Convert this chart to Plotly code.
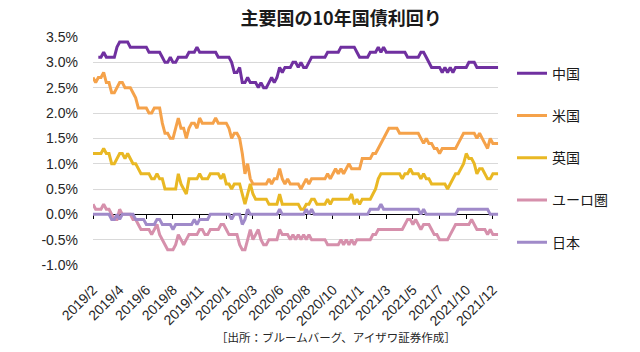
import plotly.graph_objects as go

tick_labels = ["2019/2", "2019/4", "2019/6", "2019/8", "2019/11", "2020/1", "2020/3", "2020/6",
               "2020/8", "2020/10", "2021/1", "2021/3", "2021/5", "2021/7", "2021/10", "2021/12"]

china = [None, None, 3.1, 3.1, 3.2, 3.1, 3.1, 3.1, 3.1, 3.3,
         3.4, 3.4, 3.4, 3.4, 3.3, 3.3, 3.3, 3.3, 3.3, 3.3,
         3.3, 3.2, 3.2, 3.2, 3.2, 3.2, 3.1, 3.0, 3.0, 3.1,
         3.0, 3.0, 3.1, 3.1, 3.1, 3.1, 3.2, 3.2, 3.2, 3.3,
         3.2, 3.2, 3.2, 3.2, 3.2, 3.2, 3.2, 3.1, 3.1, 3.1,
         3.1, 3.1, 3.0, 2.8, 2.8, 2.9, 2.6, 2.6, 2.7, 2.6,
         2.6, 2.6, 2.5, 2.6, 2.5, 2.5, 2.6, 2.7, 2.6, 2.7,
         2.9, 2.8, 2.9, 2.9, 2.9, 3.0, 3.0, 2.9, 3.0, 2.9,
         2.9, 3.0, 3.1, 3.1, 3.1, 3.1, 3.1, 3.1, 3.2, 3.2,
         3.2, 3.2, 3.2, 3.3, 3.3, 3.3, 3.3, 3.3, 3.3, 3.2,
         3.1, 3.1, 3.1, 3.1, 3.2, 3.2, 3.2, 3.3, 3.2, 3.3,
         3.2, 3.2, 3.2, 3.2, 3.2, 3.2, 3.2, 3.2, 3.1, 3.1,
         3.1, 3.1, 3.1, 3.2, 3.2, 3.1, 3.0, 2.9, 2.9, 2.9,
         2.9, 2.8, 2.9, 2.8, 2.9, 2.8, 2.9, 2.9, 2.9, 2.9,
         2.9, 3.0, 3.0, 3.0, 2.9, 2.9, 2.9, 2.9, 2.9, 2.9,
         2.9, 2.9, 2.9]

us = [2.7, 2.6, 2.7, 2.7, 2.8, 2.6, 2.6, 2.4, 2.4, 2.5,
      2.6, 2.6, 2.5, 2.5, 2.5, 2.4, 2.3, 2.1, 2.1, 2.1,
      2.1, 2.0, 2.0, 2.1, 2.1, 2.1, 1.8, 1.6, 1.6, 1.5,
      1.5, 1.7, 1.9, 1.7, 1.7, 1.5, 1.7, 1.8, 1.8, 1.7,
      1.9, 1.8, 1.8, 1.8, 1.8, 1.8, 1.9, 1.8, 1.8, 1.8,
      1.8, 1.7, 1.5, 1.6, 1.6, 1.5, 1.2, 0.8, 1.0, 0.7,
      0.6, 0.6, 0.6, 0.6, 0.6, 0.6, 0.7, 0.6, 0.7, 0.7,
      0.9, 0.7, 0.6, 0.7, 0.6, 0.6, 0.6, 0.6, 0.5, 0.6,
      0.7, 0.6, 0.7, 0.7, 0.7, 0.7, 0.7, 0.7, 0.8, 0.7,
      0.8, 0.9, 0.8, 0.9, 0.8, 0.9, 1.0, 0.9, 0.9, 0.9,
      0.9, 1.1, 1.1, 1.1, 1.1, 1.2, 1.2, 1.3, 1.4, 1.5,
      1.6, 1.7, 1.7, 1.7, 1.7, 1.6, 1.6, 1.6, 1.6, 1.6,
      1.6, 1.6, 1.6, 1.5, 1.4, 1.5, 1.4, 1.4, 1.3, 1.3,
      1.2, 1.3, 1.3, 1.3, 1.3, 1.3, 1.3, 1.4, 1.5, 1.6,
      1.6, 1.6, 1.6, 1.6, 1.5, 1.6, 1.5, 1.4, 1.3, 1.5,
      1.4, 1.4, 1.4]

uk = [1.2, 1.2, 1.2, 1.2, 1.3, 1.2, 1.2, 1.0, 1.0, 1.1,
      1.2, 1.2, 1.1, 1.2, 1.1, 1.0, 1.0, 0.9, 0.8, 0.8,
      0.8, 0.8, 0.7, 0.7, 0.8, 0.7, 0.7, 0.5, 0.5, 0.5,
      0.5, 0.5, 0.8, 0.6, 0.5, 0.4, 0.7, 0.7, 0.7, 0.7,
      0.8, 0.7, 0.7, 0.7, 0.8, 0.8, 0.8, 0.8, 0.7, 0.8,
      0.6, 0.6, 0.5, 0.6, 0.6, 0.6, 0.4, 0.2, 0.4, 0.6,
      0.4, 0.3, 0.3, 0.3, 0.3, 0.3, 0.2, 0.2, 0.2, 0.2,
      0.4, 0.2, 0.2, 0.2, 0.2, 0.2, 0.2, 0.2, 0.1, 0.1,
      0.2, 0.2, 0.3, 0.3, 0.2, 0.2, 0.2, 0.2, 0.3, 0.2,
      0.3, 0.3, 0.3, 0.3, 0.3, 0.3, 0.3, 0.4, 0.2, 0.3,
      0.2, 0.3, 0.3, 0.3, 0.3, 0.4, 0.5, 0.7, 0.8, 0.8,
      0.8, 0.8, 0.8, 0.8, 0.8, 0.8, 0.7, 0.8, 0.8, 0.9,
      0.8, 0.8, 0.8, 0.7, 0.8, 0.7, 0.7, 0.6, 0.6, 0.6,
      0.6, 0.6, 0.6, 0.5, 0.6, 0.7, 0.8, 0.8, 0.9, 1.0,
      1.2, 1.1, 1.1, 1.0, 0.8, 0.9, 0.9, 0.8, 0.7, 0.7,
      0.8, 0.8, 0.8]

euro = [0.2, 0.1, 0.1, 0.1, 0.2, 0.1, 0.1, 0.0, -0.1, -0.1,
        0.1, 0.0, 0.0, 0.0, 0.0, -0.1, -0.1, -0.2, -0.3, -0.3,
        -0.3, -0.3, -0.4, -0.3, -0.2, -0.4, -0.5, -0.6, -0.7, -0.7,
        -0.7, -0.6, -0.4, -0.5, -0.6, -0.5, -0.4, -0.4, -0.4, -0.4,
        -0.3, -0.3, -0.4, -0.4, -0.3, -0.3, -0.3, -0.3, -0.2, -0.2,
        -0.3, -0.4, -0.4, -0.4, -0.4, -0.6, -0.7, -0.7, -0.5, -0.3,
        -0.5, -0.4, -0.3, -0.5, -0.6, -0.6, -0.5, -0.5, -0.5, -0.5,
        -0.3, -0.4, -0.4, -0.4, -0.5, -0.4, -0.5, -0.4, -0.5, -0.4,
        -0.5, -0.4, -0.5, -0.5, -0.5, -0.5, -0.5, -0.5, -0.6, -0.6,
        -0.6, -0.6, -0.6, -0.5, -0.6, -0.5, -0.6, -0.5, -0.6, -0.5,
        -0.5, -0.5, -0.5, -0.5, -0.5, -0.4, -0.4, -0.3, -0.3, -0.3,
        -0.3, -0.3, -0.3, -0.3, -0.3, -0.3, -0.3, -0.2, -0.1, -0.1,
        -0.2, -0.1, -0.2, -0.3, -0.2, -0.2, -0.2, -0.3, -0.4, -0.4,
        -0.5, -0.5, -0.5, -0.5, -0.4, -0.3, -0.2, -0.2, -0.2, -0.2,
        -0.2, -0.2, -0.1, -0.2, -0.3, -0.3, -0.3, -0.3, -0.4, -0.3,
        -0.4, -0.4, -0.4]

japan = [0.0, 0.0, 0.0, 0.0, 0.0, 0.0, 0.0, -0.1, -0.1, 0.0,
         -0.1, 0.0, 0.0, 0.0, 0.0, 0.0, -0.1, -0.1, -0.1, -0.1,
         -0.2, -0.2, -0.2, -0.2, -0.1, -0.1, -0.2, -0.2, -0.2, -0.2,
         -0.3, -0.2, -0.2, -0.2, -0.2, -0.2, -0.2, -0.2, -0.1, -0.2,
         -0.1, -0.1, -0.1, -0.1, 0.0, 0.0, 0.0, 0.0, 0.0, 0.0,
         0.0, 0.0, -0.1, 0.0, 0.0, 0.0, -0.2, -0.1, 0.1, 0.0,
         0.0, 0.0, 0.0, 0.0, 0.0, 0.0, 0.0, 0.0, 0.0, 0.0,
         0.1, 0.0, 0.0, 0.0, 0.0, 0.0, 0.0, 0.0, 0.0, 0.0,
         0.1, 0.0, 0.1, 0.0, 0.0, 0.0, 0.0, 0.0, 0.0, 0.0,
         0.0, 0.0, 0.0, 0.0, 0.0, 0.0, 0.0, 0.0, 0.0, 0.0,
         0.0, 0.0, 0.0, 0.0, 0.1, 0.1, 0.1, 0.1, 0.2, 0.1,
         0.1, 0.1, 0.1, 0.1, 0.1, 0.1, 0.1, 0.1, 0.1, 0.1,
         0.1, 0.1, 0.1, 0.0, 0.1, 0.0, 0.0, 0.0, 0.0, 0.0,
         0.0, 0.0, 0.0, 0.0, 0.0, 0.0, 0.0, 0.1, 0.1, 0.1,
         0.1, 0.1, 0.1, 0.1, 0.1, 0.1, 0.1, 0.1, 0.1, 0.0,
         0.0, 0.0, 0.0]

series_names = ["中国", "米国", "英国", "ユーロ圏", "日本"]
series_colors = ["#7030A0", "#F5A24A", "#E9B824", "#D690AC", "#A08AC9"]
series_values = [china, us, uk, euro, japan]

y_ticks = [-1.0, -0.5, 0.0, 0.5, 1.0, 1.5, 2.0, 2.5, 3.0, 3.5]
y_ticktext = ["-1.0%", "-0.5%", "0.0%", "0.5%", "1.0%", "1.5%", "2.0%", "2.5%", "3.0%", "3.5%"]

n = len(us)
x = list(range(n))
tickvals = x[::10]

fig = go.Figure()
for name, color, vals in zip(series_names, series_colors, series_values):
    fig.add_trace(go.Scatter(
        x=x, y=vals, name=name, mode="lines",
        line=dict(color=color, width=3),
        legendgroup=name,
        xaxis="x2" if name == "日本" else "x",
    ))

y_min, y_max = -1.0, 3.5
zero_pos = (0 - y_min) / (y_max - y_min)

fig.update_layout(
    width=640, height=352,
    margin=dict(l=93, r=133, t=37, b=87),
    paper_bgcolor="white", plot_bgcolor="white",
    title=dict(text="<b>主要国の10年国債利回り</b>", x=0.533, xanchor="center", y=0.948, yanchor="middle",
               font=dict(family="Noto Sans CJK JP", size=18, color="#1a1a1a")),
    xaxis=dict(range=[0, n - 1], tickvals=tickvals, ticktext=tick_labels, tickangle=-45,
               showgrid=False, zeroline=False, showline=False, ticks="",
               tickfont=dict(family="Liberation Sans", size=14, color="#262626"),
               ticklabelstandoff=13),
    xaxis2=dict(range=[0, n - 1], overlaying="x", anchor="free", position=zero_pos,
                tickvals=tickvals, showticklabels=False, showgrid=False, zeroline=False,
                showline=True, linecolor="black", linewidth=1, ticks="outside", ticklen=4,
                tickcolor="black", tickwidth=1, layer="below traces"),
    yaxis=dict(range=[y_min, y_max], tickvals=y_ticks, ticktext=y_ticktext,
               showgrid=True, gridcolor="#D9D9D9", gridwidth=1, zeroline=False, showline=False,
               ticks="", ticklabelstandoff=14,
               tickfont=dict(family="Liberation Sans", size=14, color="#262626")),
    showlegend=True,
    legend=dict(xref="container", yref="container", x=0.8, xanchor="left", y=0.836, yanchor="top",
                traceorder="grouped", tracegroupgap=21, maxheight=330,
                font=dict(family="Noto Sans CJK JP", size=14, color="#1a1a1a"),
                bgcolor="rgba(0,0,0,0)"),
    annotations=[dict(text="［出所：ブルームバーグ、アイザワ証券作成］", xref="paper", yref="paper",
                      x=0.6, y=-0.315, xanchor="center", yanchor="middle", showarrow=False,
                      font=dict(family="Noto Sans CJK JP", size=11.5, color="#262626"))],
)

fig.write_html("out.html")
